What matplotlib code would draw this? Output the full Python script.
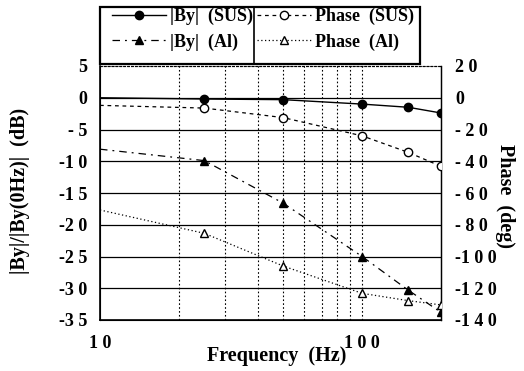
import matplotlib
matplotlib.use("Agg")
import matplotlib.pyplot as plt
from matplotlib.ticker import FixedLocator, NullLocator
from matplotlib.patches import Rectangle
from matplotlib.lines import Line2D

# ---- data ----
freq = [10, 25, 50, 100, 150, 200]
mag_sus = [0.0, -0.2, -0.3, -1.0, -1.5, -2.4]
mag_al = [-8.1, -9.9, -16.6, -25.0, -30.3, -33.8]
phase_sus = [-4.8, -6.5, -12.5, -24.0, -34.4, -43.2]
phase_al = [-70.7, -85.4, -106.0, -123.2, -127.8, -130.5]

left_ticks = [5, 0, -5, -10, -15, -20, -25, -30, -35]
left_labels = ["5", "0", "- 5", "-1 0", "-1 5", "-2 0", "-2 5", "-3 0", "-3 5"]
right_ticks = [20, 0, -20, -40, -60, -80, -100, -120, -140]
right_labels = ["2 0", "0", "- 2 0", "- 4 0", "- 6 0", "- 8 0", "-1 0 0", "-1 2 0", "-1 4 0"]
x_ticks = [10, 100]
x_labels = ["1 0", "1 0 0"]
minor_x = [20, 30, 40, 50, 60, 70, 80, 90]

plt.rcParams['font.family'] = ['Liberation Serif', 'DejaVu Serif']
plt.rcParams['font.weight'] = 'bold'

W, H = 524, 371
fig = plt.figure(figsize=(W / 100, H / 100), dpi=100)
ax = fig.add_axes([100 / W, 1 - 320 / H, 341 / W, 254 / H])
ax2 = ax.twinx()

ax.set_xscale('log')
ax.set_xlim(10, 200)
ax.set_ylim(-35, 5)
ax2.set_ylim(-140, 20)

# grid
for y in left_ticks[1:-1]:
    ax.axhline(y, color='black', lw=0.9, zorder=1)
for x in minor_x + [100]:
    ax.axvline(x, color='black', lw=0.8, ls=(0, (1.5, 2)), zorder=1)

me = list(range(1, len(freq)))
l1, = ax.plot(freq, mag_sus, color='black', lw=1.0, marker='o', ms=6,
              mfc='black', markevery=me, zorder=3)
l2, = ax.plot(freq, mag_al, color='black', lw=0.9, ls=(0, (6, 4, 1.5, 4)),
              marker='^', ms=6, mfc='black', markevery=me, zorder=3)
l3, = ax2.plot(freq, phase_sus, color='black', lw=0.9, ls=(0, (3, 3)),
               marker='o', ms=6, mfc='white', markevery=me, zorder=3)
l4, = ax2.plot(freq, phase_al, color='black', lw=0.9, ls=(0, (1, 2)),
               marker='^', ms=6, mfc='white', markevery=me, zorder=3)

ax.xaxis.set_major_locator(FixedLocator(x_ticks))
ax.xaxis.set_minor_locator(NullLocator())
ax.set_xticklabels(x_labels)
ax.set_yticks(left_ticks)
ax.set_yticklabels(left_labels)
ax2.set_yticks(right_ticks)
ax2.set_yticklabels(right_labels)

ax.tick_params(axis='y', length=0, labelsize=13, pad=9)
ax2.tick_params(axis='y', length=0, labelsize=13, pad=10)
ax.tick_params(axis='x', length=0, labelsize=13, pad=11)

for a in (ax, ax2):
    a.spines['top'].set_linestyle((0, (1.5, 2)))
    a.spines['top'].set_linewidth(0.8)
    a.spines['right'].set_linewidth(0.9)
for s in ('left', 'bottom'):
    ax.spines[s].set_linewidth(1.2)

fig.text(277 / W, 1 - 356 / H, 'Frequency  (Hz)', fontsize=14.5,
         fontweight='bold', ha='center', va='center')
fig.text(20 / W, 1 - 191 / H, '|By|/|By(0Hz)|  (dB)', fontsize=14.5,
         fontweight='bold', ha='center', va='center', rotation=90)
fig.text(505 / W, 1 - 196 / H, 'Phase  (deg)', fontsize=14.5,
         fontweight='bold', ha='center', va='center', rotation=-90)

# legend box with divider
fig.patches.append(Rectangle((100 / W, 1 - 64 / H), 320 / W, 57 / H,
                             transform=fig.transFigure, fill=False,
                             edgecolor='black', lw=1.6))
fig.lines.append(Line2D([254 / W, 254 / W], [1 - 64 / H, 1 - 7 / H],
                        transform=fig.transFigure, color='black', lw=1.2))

leg_kw = dict(frameon=False, handlelength=3.0, handletextpad=0.2,
              borderpad=0, borderaxespad=0, labelspacing=0.45,
              prop={'weight': 'bold', 'size': 13})
leg1 = fig.legend([l1, l2], ['|By|  (SUS)', '|By|  (Al)'],
                  loc='upper left', bbox_to_anchor=(112 / W, 1 - 8 / H), **leg_kw)
leg2 = fig.legend([l3, l4], ['Phase  (SUS)', 'Phase  (Al)'],
                  loc='upper left', bbox_to_anchor=(257 / W, 1 - 8 / H), **leg_kw)

fig.savefig('out.png', dpi=100)
